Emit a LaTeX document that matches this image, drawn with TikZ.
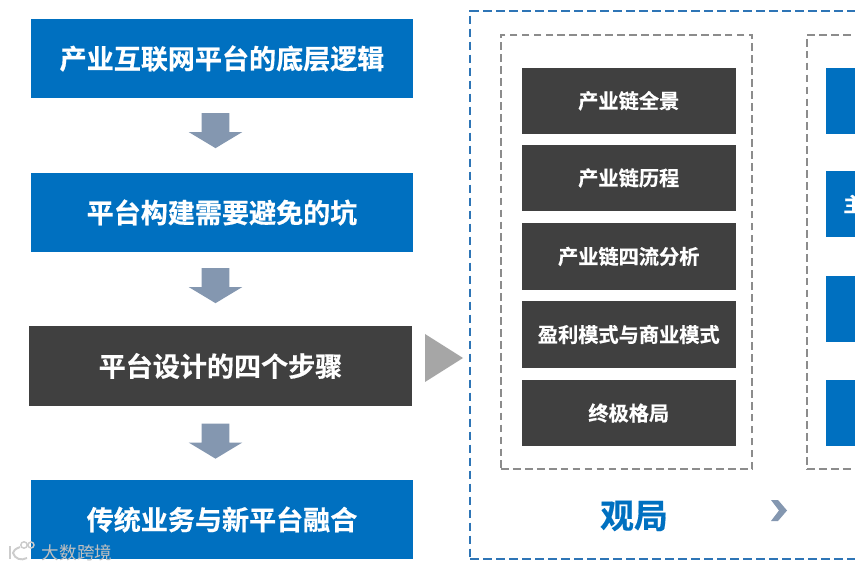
\documentclass[tikz,border=0pt]{standalone}
\usepackage{fontspec}
\setmainfont{Noto Sans CJK SC}[BoldFont={Noto Sans CJK SC Bold},BoldFeatures={FakeBold=0.5}]
\usetikzlibrary{shapes, arrows}
\definecolor{mainblue}{HTML}{0070C0}
\definecolor{darkbox}{HTML}{404040}
\definecolor{slate}{HTML}{8497B0}
\definecolor{frameblue}{HTML}{2E75B6}
\definecolor{framegrey}{HTML}{8C8C8C}
\tikzset{
	mainbox/.style = {minimum width = 7.64cm, minimum height = 1.58cm, inner sep = 0pt, text = white, font = \fontsize{15.4pt}{18pt}\bfseries, align = center},
	itembox/.style = {fill = darkbox, minimum width = 4.29cm, minimum height = 1.33cm, inner sep = 0pt, text = white, font = \fontsize{11.5pt}{14pt}\bfseries, align = center},
	sidebox/.style = {fill = mainblue, minimum width = 3.48cm, minimum height = 1.33cm, inner sep = 0pt},
	downarrow/.style = {single arrow, fill = slate, rotate = -90, minimum width = 1.06cm, minimum height = 0.7cm, single arrow head extend = 0.26cm, single arrow tip angle = 118, inner xsep = 0pt, inner ysep = 0.27cm},
	bluedash/.style = {draw = frameblue, line width = 0.85pt, dash pattern = on 5pt off 2.4pt, inner sep = 0pt},
	greydash/.style = {draw = framegrey, line width = 0.85pt, dash pattern = on 4.4pt off 2.4pt, minimum height = 8.69cm, inner sep = 0pt}
}
\begin{document}
\begin{tikzpicture}[x = 0.02cm, y = -0.02cm]
	\useasboundingbox (0,0) rectangle (855,570);
	\clip (0,0) rectangle (855,570);
	\fill [white] (0,0) rectangle (855,570);

	\node [mainbox, fill = mainblue] (logic) at (222,58.5) {产业互联网平台的底层逻辑};
	\node [mainbox, fill = mainblue] (pits) at (222,212.5) {平台构建需要避免的坑};
	\node [mainbox, fill = darkbox, minimum width = 7.66cm, minimum height = 1.6cm] (steps) at (220.5,366) {平台设计的四个步骤};
	\node [mainbox, fill = mainblue] (merge) at (222,519.5) {传统业务与新平台融合};

	\node [downarrow] (a1) at (215.5,126.5) {};
	\node [downarrow] (a2) at (215.5,281.5) {};
	\node [downarrow] (a3) at (215.5,437) {};

	\fill [black!35] (425,334) -- (463,358) -- (425,382) -- cycle;

	\node [bluedash, minimum width = 10.6cm, minimum height = 10.96cm] (outer) at (735,285) {};
	\node [greydash, minimum width = 5.02cm] (g1) at (626.5,252) {};
	\node [greydash, minimum width = 3.86cm] (g2) at (903.5,252) {};

	\node [itembox] (i1) at (628.75,100.75) {产业链全景};
	\node [itembox] (i2) at (628.75,178) {产业链历程};
	\node [itembox] (i3) at (628.75,256.5) {产业链四流分析};
	\node [itembox] (i4) at (628.75,334.5) {盈利模式与商业模式};
	\node [itembox] (i5) at (628.75,413) {终极格局};

	\node [sidebox] (s1) at (913,100.75) {};
	\node [sidebox] (s2) at (913,204) {};
	\node [sidebox] (s3) at (913,308.75) {};
	\node [sidebox] (s4) at (913,413) {};
	\node [anchor = west, inner sep = 0pt, text = white, font = \fontsize{11.5pt}{14pt}\bfseries] (s2t) at (843,204) {主};

	\node [text = mainblue, font = \fontsize{19.3pt}{22pt}\bfseries] (view) at (634,516) {观局};
	\fill [slate] (771,500) -- (778,500) -- (787,510.5) -- (778,521) -- (771,521) -- (779,510.5) -- cycle;

	\node [text = black!25, font = \fontsize{10pt}{12pt}] (mark) at (77,553) {大数跨境};
	\draw [black!20, line width = 1.3pt] (10,546) -- (10,559);
	\draw [black!20, line width = 1.1pt] (20,547) .. controls (15,549) and (13,551) .. (13,553) .. controls (15,559) and (21,561) .. (27,558);
	\draw [black!20, line width = 0.8pt] (24,545) circle (3.2) (31,545) circle (3);
\end{tikzpicture}
\end{document}
